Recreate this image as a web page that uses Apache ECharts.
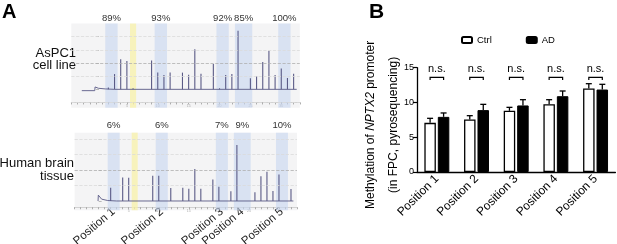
<!DOCTYPE html>
<html><head><meta charset="utf-8">
<script src="https://cdn.jsdelivr.net/npm/echarts@6/dist/echarts.min.js"></script>
<style>html,body{margin:0;padding:0;background:#fff}#c{width:617px;height:244px}</style>
</head><body><div id="c"></div>
<script>
// ---------- Panel A: pyrograms (dispensation index, peak height in grid units) ----------
const dispUpper = [2,3,4,5,6,9,10,11,12,14,15,16,17,19,20,21,22,23,25,26,27,28,29,30,31,32];
const peakUpper = [0.13,1.16,2.28,2.15,0.08,2.2,1.27,1.09,1.27,1.27,1.11,3.04,1.19,1.92,0.08,1.09,1.16,4.46,0.84,1.01,2.08,2.94,1.09,1.59,0.86,1.19];
const dispLower = [2,4,5,9,10,12,14,15,16,17,19,20,22,23,26,27,28,29,30,32];
const peakLower = [0.86,1.53,1.50,1.63,1.63,0.84,0.86,0.79,2.08,0.79,1.40,0.92,0.63,3.63,0.56,1.61,1.89,0.65,1.72,0.77];
const traceUpperX = [-2.3,-0.2,-0.15,0.4,1.5,3,32.5];
const traceUpperY = [-0.1,-0.1,0.18,0.08,0.03,0,0];
const traceLowerX = [-0.1,-0.05,0.5,1.5,3,32.4];
const traceLowerY = [0,0.38,0.12,0.03,0,0];
const bandStart = [1.5,9.5,19.5,22.5,29.5];
const bandEnd   = [3.5,11.5,21.5,25.3,31.5];
const bandCenter = [2.5,10.5,20.5,23.9,30.5];
const yellowBand = [5.5,6.5];
const pctUpper = ['89%','93%','92%','85%','100%'];
const pctLower = ['6%','6%','7%','9%','10%'];
const positionNames = ['Position 1','Position 2','Position 3','Position 4','Position 5'];
const gridUpper = [-1,1,2,3,4];
const gridLower = [1,2,3,4];
const dispTickLabels = [5,10,15,20,25,30];

// ---------- Panel B: methylation bars ----------
const categories = ['Position 1','Position 2','Position 3','Position 4','Position 5'];
const ctrlMean = [7.07,7.56,8.8,9.76,12.0];
const ctrlSem  = [0.65,0.54,0.5,0.64,0.7];
const adMean   = [7.93,8.9,9.57,10.9,11.86];
const adSem    = [0.56,0.83,0.83,0.75,0.75];
const nsText   = ['n.s.','n.s.','n.s.','n.s.','n.s.'];
const nsLevel  = 13.62;

const FONT = "'Liberation Sans', Arial, Helvetica, sans-serif";
const PEAK = '#5a5a86';
const BLUE = 'rgba(200,214,240,0.62)';
const YELLOW = 'rgba(248,242,168,0.75)';

function zip(a,b){return a.map((v,i)=>[v,b[i]]);}
function bandsMarkArea(){
  const d = bandStart.map((s,i)=>[{xAxis:s, itemStyle:{color:BLUE}},{xAxis:bandEnd[i]}]);
  d.push([{xAxis:yellowBand[0], itemStyle:{color:YELLOW}},{xAxis:yellowBand[1]}]);
  return {silent:true, data:d};
}
function gridMarkLine(vals, dark){
  return {silent:true, symbol:'none', label:{show:false},
    data: vals.map(v=>({yAxis:v, lineStyle:{color: v===dark ? '#b0b0b0' : '#dadada', type:'dashed', width:0.8}}))};
}

const chart = echarts.init(document.getElementById('c'), null, {renderer:'canvas'});

function dispAxis(grid, offset){
  return {type:'value', gridIndex:grid, min:-4, max:33, interval:1, position:'bottom', offset:offset,
    axisLine:{show:true, onZero:false, lineStyle:{color:'#c8c8c8', width:0.8}},
    axisTick:{show:true, length:2, lineStyle:{color:'#999', width:0.8}},
    axisLabel:{show:true, customValues:dispTickLabels, fontSize:3.5, color:'#aaa', margin:2, fontFamily:FONT},
    splitLine:{show:false}};
}
function pctAxis(grid, labels, margin){
  return {type:'value', gridIndex:grid, min:-4, max:33, position:'top',
    axisLine:{show:false}, axisTick:{show:false}, splitLine:{show:false},
    axisLabel:{show:true, customValues:bandCenter, margin:margin, fontSize:9.5, color:'#333', fontFamily:FONT,
      formatter:(v)=>{const i=bandCenter.indexOf(v); return i>=0?labels[i]:'';}}};
}

const option = {
  animation:false,
  backgroundColor:'#fff',
  textStyle:{fontFamily:FONT},
  grid:[
    {left:71.3, top:23.55, width:228.5, height:84.2, show:true, backgroundColor:'#f4f4f5', borderWidth:0, outerBoundsMode:'none', containLabel:false},
    {left:74.6, top:132.65, width:222.4, height:77.6, show:true, backgroundColor:'#f4f4f5', borderWidth:0, outerBoundsMode:'none', containLabel:false},
    {left:417, top:67.7, width:198.4, height:104.3, outerBoundsMode:'none', containLabel:false}
  ],
  legend:{left:461, top:35, padding:0, itemWidth:10, itemHeight:6, itemGap:34,
    textStyle:{fontSize:9.5, color:'#000', fontFamily:FONT},
    data:['Ctrl','AD']},
  xAxis:[
    dispAxis(0,-5.3),
    pctAxis(0,pctUpper,0),
    dispAxis(1,-3),
    pctAxis(1,pctLower,2),
    {type:'value', gridIndex:1, min:-4, max:33, position:'bottom', offset:0,
      axisLine:{show:false}, axisTick:{show:false}, splitLine:{show:false},
      axisLabel:{show:true, customValues:bandCenter, rotate:40, margin:0, fontSize:11.5, color:'#222', fontFamily:FONT,
        formatter:(v)=>{const i=bandCenter.indexOf(v); return i>=0?positionNames[i]:'';}}},
    {type:'category', gridIndex:2, data:categories,
      axisLine:{lineStyle:{color:'#000', width:1.3}}, axisTick:{show:false},
      axisLabel:{rotate:45, margin:5, fontSize:12, color:'#000', fontFamily:FONT}}
  ],
  yAxis:[
    {type:'value', gridIndex:0, min:-1.4, max:5, offset:-4, splitLine:{show:false},
      axisLine:{show:false}, axisLabel:{show:false},
      axisTick:{show:true, inside:true, length:3, customValues:[-1,0,1,2,3,4], lineStyle:{color:'#aaa', width:0.8}}},
    {type:'value', gridIndex:1, min:-0.6, max:4.43, offset:-3, splitLine:{show:false},
      axisLine:{show:false}, axisLabel:{show:false},
      axisTick:{show:true, inside:true, length:3, customValues:[0,1,2,3,4], lineStyle:{color:'#aaa', width:0.8}}},
    {type:'value', gridIndex:2, min:0, max:15, interval:5, splitLine:{show:false},
      axisLine:{show:true, lineStyle:{color:'#000', width:1.3}},
      axisTick:{show:true, length:4, lineStyle:{color:'#000', width:1.2}},
      axisLabel:{fontSize:9, color:'#000', margin:3, fontFamily:FONT},
      name:'{a|Methylation of }{i|NPTX2}{a| promoter}\n{a|(in FPC, pyrosequencing)}',
      nameLocation:'middle', nameGap:9, nameRotate:90,
      nameTextStyle:{align:'center', padding:[0,10,0,0], rich:{
        a:{fontSize:12, color:'#000', fontFamily:FONT, lineHeight:23},
        i:{fontSize:12, color:'#000', fontFamily:FONT, fontStyle:'italic', lineHeight:23}}}}
  ],
  graphic:[
    {type:'text', left:2, top:2, style:{text:'A', font:"bold 20px "+FONT, fill:'#000'}},
    {type:'text', left:369, top:2, style:{text:'B', font:"bold 21px "+FONT, fill:'#000'}},
    {type:'text', right:541, top:47, style:{text:'AsPC1', font:"13px "+FONT, fill:'#111', textAlign:'right'}},
    {type:'text', right:541, top:59, style:{text:'cell line', font:"13px "+FONT, fill:'#111', textAlign:'right'}},
    {type:'text', right:543, top:157, style:{text:'Human brain', font:"13px "+FONT, fill:'#111', textAlign:'right'}},
    {type:'text', right:543, top:170, style:{text:'tissue', font:"13px "+FONT, fill:'#111', textAlign:'right'}}
  ],
  series:[
    {type:'line', xAxisIndex:0, yAxisIndex:0, data:zip(traceUpperX,traceUpperY), symbol:'none',
      lineStyle:{color:PEAK, width:0.9}, z:3, markLine:gridMarkLine(gridUpper,2)},
    {type:'bar', xAxisIndex:0, yAxisIndex:0, data:zip(dispUpper,peakUpper), barWidth:1.1,
      itemStyle:{color:PEAK}, z:4, markArea:bandsMarkArea()},
    {type:'line', xAxisIndex:2, yAxisIndex:1, data:zip(traceLowerX,traceLowerY), symbol:'none',
      lineStyle:{color:PEAK, width:0.9}, z:3, markLine:gridMarkLine(gridLower,2)},
    {type:'bar', xAxisIndex:2, yAxisIndex:1, data:zip(dispLower,peakLower), barWidth:1.1,
      itemStyle:{color:PEAK}, z:4, markArea:bandsMarkArea()},
    {name:'Ctrl', type:'bar', xAxisIndex:5, yAxisIndex:2, data:ctrlMean, barWidth:11.5, barGap:'17%',
      itemStyle:{color:'#fff', borderColor:'#000', borderWidth:1.3}},
    {name:'AD', type:'bar', xAxisIndex:5, yAxisIndex:2, data:adMean, barWidth:11.5, barGap:'17%',
      itemStyle:{color:'#000', borderColor:'#000', borderWidth:1}},
    errSeries(ctrlMean, ctrlSem, -6.75),
    errSeries(adMean, adSem, 6.75),
    {type:'custom', xAxisIndex:5, yAxisIndex:2, silent:true, z:10,
      data:categories.map((c,i)=>[i,nsLevel]),
      renderItem:function(params, api){
        const p = api.coord([api.value(0), api.value(1)]);
        const x = p[0], y = p[1], h = 6.75;
        return {type:'group', children:[
          {type:'polyline', shape:{points:[[x-h,y+2.8],[x-h,y],[x+h,y],[x+h,y+2.8]]},
            style:{stroke:'#000', lineWidth:1.2, fill:null}},
          {type:'text', x:x, y:y-3, style:{text:nsText[params.dataIndex], font:"11px "+FONT, fill:'#000',
            textAlign:'center', textVerticalAlign:'bottom'}}
        ]};
      }}
  ]
};

function errSeries(mean, sem, off){
  return {type:'custom', xAxisIndex:5, yAxisIndex:2, silent:true, z:9,
    data: mean.map((m,i)=>[i,m,sem[i]]),
    renderItem:function(params, api){
      const c = api.value(0), m = api.value(1), e = api.value(2);
      const p0 = api.coord([c,m]), p1 = api.coord([c,m+e]);
      const x = p0[0]+off;
      return {type:'group', children:[
        {type:'line', shape:{x1:x,y1:p0[1],x2:x,y2:p1[1]}, style:{stroke:'#000', lineWidth:1.3}},
        {type:'line', shape:{x1:x-3,y1:p1[1],x2:x+3,y2:p1[1]}, style:{stroke:'#000', lineWidth:1.3}}
      ]};
    }};
}

chart.setOption(option);
</script></body></html>
